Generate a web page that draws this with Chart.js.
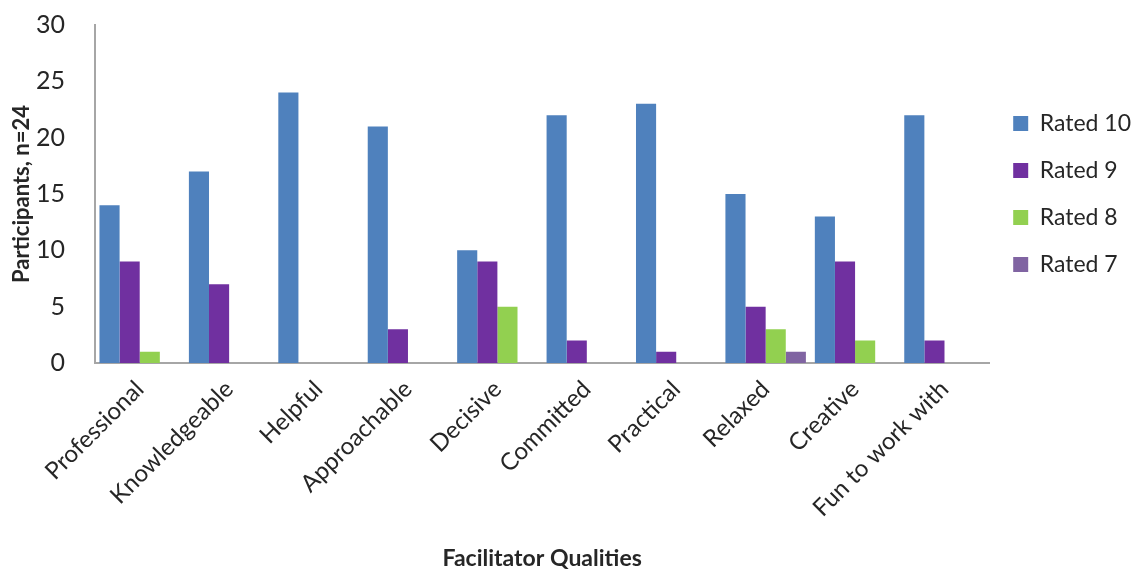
<!DOCTYPE html>
<html>
<head>
<meta charset="utf-8">
<script src="https://cdn.jsdelivr.net/npm/chart.js@4/dist/chart.umd.min.js"></script>
<style>
  html, body { margin: 0; padding: 0; background: #fff; }
  #wrap { width: 1141px; height: 572px; position: relative; }
</style>
</head>
<body>
<div id="wrap"><canvas id="chart"></canvas></div>
<script>
// categories and ratings per quality
const qualities = ['Professional', 'Knowledgeable', 'Helpful', 'Approachable', 'Decisive',
  'Committed', 'Practical', 'Relaxed', 'Creative', 'Fun to work with'];
const rated10 = [14, 17, 24, 21, 10, 22, 23, 15, 13, 22];
const rated9 = [9, 7, 0, 3, 9, 2, 1, 5, 9, 2];
const rated8 = [1, 0, 0, 0, 5, 0, 0, 3, 2, 0];
const rated7 = [0, 0, 0, 0, 0, 0, 0, 1, 0, 0];
const yTicks = [0, 5, 10, 15, 20, 25, 30];

const FONT = 'Lato, "Liberation Sans", sans-serif';
const TEXT = '#262626';

const ctx = document.getElementById('chart').getContext('2d');
new Chart(ctx, {
  type: 'bar',
  data: {
    labels: qualities,
    datasets: [
      { label: 'Rated 10', data: rated10, backgroundColor: '#4f81bd' },
      { label: 'Rated 9', data: rated9, backgroundColor: '#7030a0' },
      { label: 'Rated 8', data: rated8, backgroundColor: '#92d050' },
      { label: 'Rated 7', data: rated7, backgroundColor: '#8064a2' }
    ]
  },
  options: {
    responsive: true,
    maintainAspectRatio: false,
    animation: false,
    categoryPercentage: 0.9,
    barPercentage: 1.0,
    layout: { padding: { top: 25, right: 0, bottom: 0, left: 9 } },
    plugins: {
      tooltip: { enabled: false },
      legend: {
        position: 'right',
        fullSize: false,
        align: 'center',
        labels: {
          boxWidth: 15,
          boxHeight: 15,
          padding: 24,
          color: TEXT,
          font: { family: FONT, size: 23 }
        }
      }
    },
    scales: {
      x: {
        grid: { display: false },
        border: { display: true, color: '#a6a6a6', width: 2 },
        // fixed height keeps the plot bottom where the axis sits
        afterFit: s => { s.height = 209; },
        ticks: {
          color: TEXT,
          minRotation: 45,
          maxRotation: 45,
          padding: 4,
          font: { family: FONT, size: 24 }
        },
        title: {
          display: true,
          text: 'Facilitator Qualities',
          color: TEXT,
          padding: { top: 4, bottom: 0 },
          font: { family: FONT, size: 23, weight: 'bold' }
        }
      },
      y: {
        min: 0,
        max: 30,
        afterBuildTicks: axis => { axis.ticks = yTicks.map(v => ({ value: v })); },
        // fixed width, and no extra room above the top label
        afterFit: s => { s.width = 86; s.paddingTop = 0; s.paddingBottom = 0; },
        grid: { display: false },
        border: { display: true, color: '#a6a6a6', width: 2 },
        ticks: {
          color: TEXT,
          padding: 22,
          font: { family: FONT, size: 25 }
        },
        title: {
          display: true,
          text: 'Participants, n=24',
          color: TEXT,
          padding: { top: 0, bottom: 2 },
          font: { family: FONT, size: 22, weight: 'bold' }
        }
      }
    }
  }
});
</script>
</body>
</html>
